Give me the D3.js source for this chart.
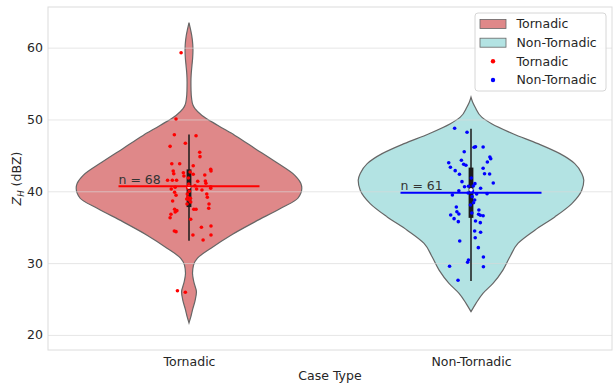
<!DOCTYPE html>
<html>
<head>
<meta charset="utf-8">
<script src="https://cdn.jsdelivr.net/npm/d3@7/dist/d3.min.js"></script>
<style>
  html, body { margin: 0; padding: 0; background: #fff; }
  svg { display: block; }
  text { font-family: "DejaVu Sans", sans-serif; }
</style>
</head>
<body>
<svg id="chart" width="615" height="385"></svg>
<script>
// ---- data ----
const categories = ["Tornadic", "Non-Tornadic"];
const yTicks = [20, 30, 40, 50, 60];

// kernel density outlines: [value (dBZ), relative density 0..1]
const tornadicDensity = [
  [63.5, 0], [62.5, 0.014], [61.7, 0.024], [60.5, 0.033], [59.6, 0.035], [58.5, 0.032],
  [57.5, 0.026], [56.2, 0.019], [55.2, 0.017], [54.0, 0.018], [52.9, 0.023], [52.0, 0.035],
  [51.5, 0.053], [50.56, 0.115], [49.17, 0.257], [47.78, 0.407], [45.97, 0.584],
  [44.07, 0.770], [42.22, 0.938], [41.11, 0.991], [40.42, 1.0], [39.03, 0.965],
  [37.64, 0.814], [35.74, 0.584], [33.89, 0.372], [32.08, 0.195], [30.69, 0.075],
  [29.72, 0.040], [28.6, 0.031], [27.3, 0.044], [25.97, 0.066], [24.7, 0.053],
  [23.5, 0.031], [22.5, 0.016], [21.67, 0]
];
const nonTornadicDensity = [
  [53.1, 0], [52.4, 0.015], [51.71, 0.037], [50.32, 0.095], [49.4, 0.183], [48.01, 0.372],
  [46.63, 0.593], [45.24, 0.788], [43.85, 0.920], [42.46, 0.982], [41.53, 1.0],
  [40.14, 0.982], [38.29, 0.894], [36.43, 0.743], [34.58, 0.566], [32.74, 0.416],
  [30.88, 0.345], [29.03, 0.283], [27.18, 0.195], [25.79, 0.106], [24.4, 0.044],
  [23.24, 0]
];

// individual cases: [value (dBZ), horizontal jitter in category units]
const tornadicPoints = [
  [59.30, -0.028], [50.07, -0.046], [47.88, -0.052], [47.74, 0.025], [46.26, -0.067],
  [46.68, -0.013], [45.43, 0.038], [44.82, 0.039], [43.84, -0.061], [43.84, -0.033],
  [43.56, 0.015], [43.06, 0.077], [42.83, 0.078], [42.83, -0.056], [42.45, -0.054],
  [42.59, -0.020], [42.37, 0.015], [42.27, 0.056], [41.53, -0.076], [41.53, -0.059],
  [41.53, -0.044], [41.43, 0.058], [41.11, 0.060], [41.39, 0.031], [40.64, 0.077],
  [40.42, 0.077], [39.86, -0.051], [40.32, -0.063], [40.32, 0.027], [40.18, 0.046],
  [40.78, 0.021], [39.62, 0.063], [39.16, 0.065], [38.65, -0.058], [39.03, 0.005],
  [38.23, 0.071], [37.63, 0.070], [37.49, -0.051], [37.30, -0.043], [37.49, 0.017],
  [37.49, 0.025], [36.32, -0.067], [36.10, 0.006], [34.99, 0.044], [35.17, 0.078],
  [34.47, -0.052], [34.38, -0.046], [33.92, 0.014], [33.92, 0.078], [33.22, 0.050],
  [26.16, -0.041], [25.94, -0.013], [41.02, -0.001], [40.46, -0.005], [40.00, 0.001],
  [39.62, -0.006], [39.21, -0.004], [38.79, 0.000], [38.51, 0.006], [38.23, -0.007],
  [41.85, -0.002], [42.69, 0.004], [38.93, -0.008], [40.56, -0.049], [39.44, -0.046],
  [36.80, -0.064], [37.12, -0.049], [42.12, -0.018]
];
const nonTornadicPoints = [
  [48.77, -0.058], [48.21, -0.014], [45.51, -0.024], [46.13, 0.011], [46.21, 0.016],
  [46.17, 0.043], [44.78, 0.067], [44.54, 0.070], [44.32, -0.034], [43.76, -0.026],
  [43.98, -0.079], [43.34, -0.073], [43.62, -0.018], [44.08, 0.058], [43.20, 0.043],
  [42.87, -0.056], [42.37, -0.041], [42.45, 0.048], [42.41, 0.066], [41.16, 0.079],
  [41.34, -0.032], [41.06, 0.014], [40.64, -0.023], [40.70, -0.009], [40.74, 0.008],
  [40.42, 0.034], [40.08, -0.043], [39.48, -0.066], [39.76, -0.010], [39.62, 0.020],
  [39.67, 0.057], [40.04, 0.005], [39.25, 0.004], [38.79, 0.013], [38.41, 0.009],
  [37.81, -0.052], [37.16, -0.050], [36.84, -0.043], [36.70, -0.072], [36.19, -0.060],
  [35.77, -0.045], [37.40, 0.028], [36.80, 0.027], [36.66, 0.033], [36.60, 0.043],
  [35.87, 0.016], [35.63, 0.033], [34.47, 0.013], [34.29, 0.034], [33.54, 0.015],
  [33.08, -0.040], [32.15, 0.026], [30.85, 0.044], [30.44, -0.009], [30.12, -0.012],
  [29.56, -0.076], [29.50, 0.044], [27.61, -0.046], [41.85, 0.001], [38.09, -0.002],
  [36.98, 0.003]
];

// box summaries per category
const whiskerLow  = [33.1, 27.5];
const quartile1   = [37.8, 36.3];
const medians     = [40.6, 40.2];
const quartile3   = [43.05, 43.3];
const whiskerHigh = [47.9, 48.7];
const means       = [40.7, 39.8];

const fillColors  = ["#df8889", "#b3e3e3"];
const pointColors = ["red", "blue"];

// ---- layout ----
const svg = d3.select("#chart");
const plot = { left: 48, right: 612, top: 7, bottom: 350 };

const x = d3.scaleLinear().domain([-0.5, 1.5]).range([plot.left, plot.right]);
const y = d3.scaleLinear().domain([17.9, 65.66]).range([plot.bottom, plot.top]);

const violinHalf = 0.4;   // category units
const meanHalf = 0.25;

const densities = [tornadicDensity, nonTornadicDensity];
const points = [tornadicPoints, nonTornadicPoints];

// frame
svg.append("rect")
  .attr("x", plot.left).attr("y", plot.top)
  .attr("width", plot.right - plot.left).attr("height", plot.bottom - plot.top)
  .attr("fill", "none").attr("stroke", "#dcdcdc").attr("stroke-width", 1);

// violins
const area = d3.area().curve(d3.curveMonotoneY);

densities.forEach((dens, i) => {
  area.y(d => y(d[0]))
      .x0(d => x(i - d[1] * violinHalf))
      .x1(d => x(i + d[1] * violinHalf));
  svg.append("path")
    .datum(dens)
    .attr("d", area)
    .attr("fill", fillColors[i])
    .attr("stroke", "#666")
    .attr("stroke-width", 1.2);
});

// horizontal grid, drawn lightly over the fills
const yAxis = d3.axisLeft(y).tickValues(yTicks).tickSize(-(plot.right - plot.left)).tickPadding(5);
const gy = svg.append("g").attr("transform", `translate(${plot.left},0)`).call(yAxis);
gy.select(".domain").remove();
gy.selectAll(".tick line").attr("stroke", "#d8d8d8").attr("stroke-opacity", 0.65).attr("stroke-width", 1);
gy.selectAll(".tick text")
  .attr("fill", "#262626").style("font-size", "12.5px").style("font-family", "DejaVu Sans");

// x axis labels (no ticks)
const xAxis = d3.axisBottom(x).tickValues([0, 1]).tickFormat(i => categories[i]).tickSize(0).tickPadding(7);
const gx = svg.append("g").attr("transform", `translate(0,${plot.bottom})`).call(xAxis);
gx.select(".domain").remove();
gx.selectAll(".tick text")
  .attr("fill", "#262626").style("font-size", "12.5px").style("font-family", "DejaVu Sans");

// inner boxes
categories.forEach((c, i) => {
  svg.append("line")
    .attr("x1", x(i)).attr("x2", x(i))
    .attr("y1", y(whiskerLow[i])).attr("y2", y(whiskerHigh[i]))
    .attr("stroke", "#1a1a1a").attr("stroke-width", 1.5);
  svg.append("rect")
    .attr("x", x(i) - 2.4).attr("width", 4.8)
    .attr("y", y(quartile3[i])).attr("height", y(quartile1[i]) - y(quartile3[i]))
    .attr("fill", "#1a1a1a");
});

// points
points.forEach((pts, i) => {
  svg.append("g").selectAll("circle")
    .data(pts).join("circle")
    .attr("cx", d => x(i + d[1]))
    .attr("cy", d => y(d[0]))
    .attr("r", 1.8)
    .attr("fill", pointColors[i]);
});

// medians
categories.forEach((c, i) => {
  svg.append("circle")
    .attr("cx", x(i)).attr("cy", y(medians[i]))
    .attr("r", 1.8).attr("fill", "#fff");
});

// mean lines with counts
categories.forEach((c, i) => {
  svg.append("line")
    .attr("x1", x(i - meanHalf)).attr("x2", x(i + meanHalf))
    .attr("y1", y(means[i])).attr("y2", y(means[i]))
    .attr("stroke", pointColors[i]).attr("stroke-width", 2);
  svg.append("text")
    .attr("x", x(i - meanHalf)).attr("y", y(means[i]) - 2.5)
    .attr("fill", "#333").style("font-size", "12.5px")
    .text(`n = ${points[i].length}`);
});

// axis titles
svg.append("text")
  .attr("x", (plot.left + plot.right) / 2).attr("y", 380)
  .attr("text-anchor", "middle").attr("fill", "#262626").style("font-size", "12.5px")
  .text("Case Type");

const yl = svg.append("text")
  .attr("transform", `translate(21,${(plot.top + plot.bottom) / 2}) rotate(-90)`)
  .attr("text-anchor", "middle").attr("fill", "#262626").style("font-size", "12.5px");
yl.append("tspan").style("font-style", "italic").text("Z");
yl.append("tspan").style("font-style", "italic").style("font-size", "8.5px").attr("dy", 3).text("H");
yl.append("tspan").attr("dy", -3).text(" (dBZ)");

// legend
const lg = svg.append("g");
lg.append("rect")
  .attr("x", 475).attr("y", 13).attr("width", 131).attr("height", 78).attr("rx", 3)
  .attr("fill", "#fff").attr("fill-opacity", 0.85).attr("stroke", "#d6d6d6");
const rowY = [24, 42.7, 61.3, 80];
categories.forEach((c, i) => {
  lg.append("rect")
    .attr("x", 480).attr("y", rowY[i] - 4.5).attr("width", 26).attr("height", 9)
    .attr("fill", fillColors[i]).attr("stroke", "#666").attr("stroke-width", 0.8);
  lg.append("text")
    .attr("x", 516.5).attr("y", rowY[i]).attr("dy", "0.35em")
    .attr("fill", "#262626").style("font-size", "12.5px").text(c);
  lg.append("circle")
    .attr("cx", 493).attr("cy", rowY[i + 2]).attr("r", 2.2).attr("fill", pointColors[i]);
  lg.append("text")
    .attr("x", 516.5).attr("y", rowY[i + 2]).attr("dy", "0.35em")
    .attr("fill", "#262626").style("font-size", "12.5px").text(c);
});
</script>
</body>
</html>
